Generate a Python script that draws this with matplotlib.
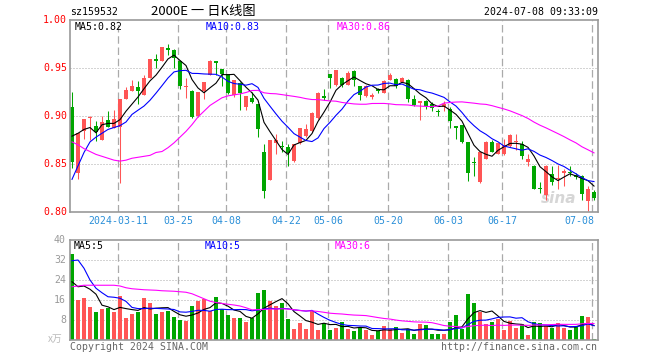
import matplotlib
matplotlib.use('Agg')
import matplotlib.pyplot as plt
import numpy as np

W, H = 660, 360

# ---------------- data ----------------
opens = [0.909, 0.841, 0.884, 0.8975, 0.890, 0.875, 0.896, 0.888, 0.889, 0.918,
         0.926, 0.930, 0.9215, 0.940, 0.959, 0.957, 0.971, 0.969, 0.957, 0.930,
         0.926, 0.8997, 0.926, 0.943, 0.957, 0.949, 0.944, 0.9215, 0.934, 0.909,
         0.919, 0.9125, 0.863, 0.8333, 0.8715, 0.869, 0.8677, 0.853, 0.8715, 0.879,
         0.884, 0.898, 0.921, 0.944, 0.932, 0.9396, 0.9326, 0.9465, 0.931, 0.9208,
         0.9198, 0.9285, 0.9243, 0.938, 0.9389, 0.9354, 0.938, 0.9174, 0.9139, 0.9156,
         0.912, 0.905, 0.9097, 0.9076, 0.889, 0.8903, 0.8729, 0.852, 0.8313, 0.8556,
         0.8733, 0.8604, 0.8608, 0.8688, 0.873, 0.8708, 0.8517, 0.8483, 0.8247, 0.818,
         0.840, 0.834, 0.8403, 0.842, 0.839, 0.8375, 0.8115, 0.8208]
highs = [0.925, 0.882, 0.897, 0.8995, 0.895, 0.900, 0.905, 0.906, 0.918, 0.930,
         0.938, 0.936, 0.943, 0.959, 0.965, 0.972, 0.975, 0.970, 0.958, 0.940,
         0.927, 0.925, 0.935, 0.958, 0.957, 0.949, 0.944, 0.938, 0.935, 0.921,
         0.925, 0.913, 0.871, 0.875, 0.8816, 0.874, 0.871, 0.871, 0.888, 0.892,
         0.904, 0.925, 0.9285, 0.944, 0.948, 0.941, 0.947, 0.948, 0.931, 0.932,
         0.924, 0.929, 0.937, 0.945, 0.940, 0.941, 0.939, 0.9215, 0.916, 0.917,
         0.915, 0.907, 0.9156, 0.909, 0.889, 0.891, 0.873, 0.857, 0.863, 0.874,
         0.875, 0.872, 0.8764, 0.881, 0.8813, 0.8736, 0.8604, 0.849, 0.8313, 0.849,
         0.8483, 0.8486, 0.845, 0.8476, 0.841, 0.839, 0.827, 0.823]
lows = [0.846, 0.834, 0.876, 0.875, 0.874, 0.875, 0.889, 0.888, 0.830, 0.918,
        0.926, 0.912, 0.9215, 0.940, 0.950, 0.957, 0.964, 0.950, 0.928, 0.919,
        0.898, 0.899, 0.918, 0.943, 0.943, 0.931, 0.923, 0.920, 0.906, 0.906,
        0.914, 0.8785, 0.8146, 0.833, 0.860, 0.863, 0.848, 0.852, 0.871, 0.878,
        0.883, 0.897, 0.917, 0.929, 0.931, 0.930, 0.932, 0.931, 0.917, 0.920,
        0.918, 0.9236, 0.924, 0.938, 0.9295, 0.935, 0.9146, 0.910, 0.896, 0.907,
        0.905, 0.900, 0.905, 0.8878, 0.8764, 0.872, 0.8326, 0.838, 0.8306, 0.855,
        0.862, 0.860, 0.859, 0.868, 0.865, 0.8556, 0.8479, 0.8236, 0.820, 0.8128,
        0.8285, 0.8243, 0.8271, 0.8372, 0.834, 0.8128, 0.8007, 0.813]
closes = [0.852, 0.882, 0.897, 0.8985, 0.883, 0.894, 0.889, 0.897, 0.918, 0.927,
          0.931, 0.926, 0.940, 0.959, 0.957, 0.972, 0.969, 0.960, 0.931, 0.931,
          0.899, 0.925, 0.935, 0.957, 0.955, 0.944, 0.924, 0.937, 0.924, 0.921,
          0.9146, 0.886, 0.8215, 0.875, 0.8747, 0.868, 0.861, 0.8705, 0.8875, 0.886,
          0.9035, 0.924, 0.919, 0.9396, 0.948, 0.9326, 0.9448, 0.938, 0.9215, 0.931,
          0.9222, 0.9257, 0.936, 0.9427, 0.931, 0.940, 0.918, 0.911, 0.9156, 0.9104,
          0.9085, 0.904, 0.913, 0.8951, 0.888, 0.8729, 0.8406, 0.851, 0.8625, 0.8733,
          0.863, 0.8715, 0.8694, 0.8799, 0.874, 0.8583, 0.8552, 0.8243, 0.824, 0.8483,
          0.8313, 0.8358, 0.8427, 0.841, 0.8368, 0.8184, 0.8243, 0.8146]
volumes = [34.4, 16.0, 16.8, 13.2, 11.2, 12.4, 12.8, 11.2, 17.6, 8.8,
           10.4, 11.2, 16.8, 14.8, 10.4, 11.2, 11.6, 9.2, 8.0, 7.6,
           13.6, 15.6, 16.4, 11.6, 17.2, 12.4, 10.0, 8.8, 8.8, 7.2,
           8.8, 18.8, 20.0, 15.6, 13.6, 14.8, 8.4, 4.4, 6.8, 4.4,
           11.6, 4.0, 6.8, 4.0, 4.8, 7.2, 4.4, 3.6, 5.2, 4.0,
           2.0, 3.6, 5.6, 4.4, 5.2, 2.8, 4.4, 2.4, 6.4, 6.0,
           2.4, 2.4, 2.4, 7.2, 10.0, 4.4, 18.4, 14.8, 11.2, 6.4,
           7.2, 8.4, 4.0, 7.6, 4.8, 6.4, 2.0, 7.2, 6.8, 5.6,
           4.8, 6.8, 4.8, 4.0, 5.6, 9.6, 9.2, 0.4]

# moving averages visible before enough in-window data exists
ma5_head = [0.879, 0.882, 0.886, 0.888]
ma10_head = [0.834, 0.848, 0.862, 0.873, 0.878, 0.882, 0.886, 0.888, 0.890]
ma30_head = [0.873, 0.870, 0.866, 0.863, 0.860, 0.858, 0.856, 0.854, 0.853, 0.854,
             0.856, 0.857, 0.858, 0.859, 0.862, 0.863, 0.867, 0.872, 0.878, 0.884,
             0.891, 0.899, 0.905, 0.911, 0.915, 0.919, 0.921, 0.922, 0.923]
vma5_head = [23.3, 21.3, 21.6, 20.3]
vma10_head = [31.7, 32.0, 28.7, 24.0, 20.7, 18.9, 17.3, 17.1, 16.7]
vma30_head = [21.3, 21.6, 21.9, 21.9, 21.9, 21.9, 21.9, 21.9, 21.6, 20.9,
              20.5, 20.3, 20.1, 20.0, 19.9, 19.7, 19.6, 19.5, 19.3, 19.1,
              18.5, 17.5, 16.5, 15.5, 15.0, 14.6, 14.3, 14.0, 13.6]

date_idx = [8, 18, 26, 36, 43, 53, 63, 72, 87]
date_labels = ['2024-03-11', '03-25', '04-08', '04-22', '05-06', '05-20',
               '06-03', '06-17', '07-08']
price_ticks = [1.00, 0.95, 0.90, 0.85, 0.80]
vol_ticks = [40, 32, 24, 16, 8]

title_code = 'sz159532'
title_name = '2000E 一 日K线图'
title_time = '2024-07-08 09:33:09'
ma_price_labels = ['MA5:0.82', 'MA10:0.83', 'MA30:0.86']
ma_vol_labels = ['MA5:5', 'MA10:5', 'MA30:6']

# ---------------- style ----------------
RED = '#ff5555'
GREEN = '#00a600'
MA_COLORS = ['#000000', '#0000ff', '#ff00ff']
FRAME = '#999999'
GRID = '#aaaaaa'
MONO = 'DejaVu Sans Mono'
FS = 7.1


def moving(vals, n, head):
    out = []
    for i in range(len(vals)):
        if i < len(head):
            out.append(head[i])
        else:
            out.append(float(np.mean(vals[i - n + 1:i + 1])))
    return out


def rect(l, t, r, b):
    return [l / W, 1 - b / H, (r - l) / W, (b - t) / H]


def ftext(x, y, s, **kw):
    fig.text(x / W, 1 - y / H, s, va='center', **kw)


fig = plt.figure(figsize=(W / 100, H / 100), dpi=100)
fig.patch.set_facecolor('white')

ax = fig.add_axes(rect(70, 20, 598, 212))
axv = fig.add_axes(rect(70, 240, 598, 340))

n = len(closes)
x = np.arange(n)
o = np.array(opens); c = np.array(closes)
hi = np.array(highs); lo = np.array(lows)
cols = [RED if c[i] >= o[i] else GREEN for i in range(n)]

for a in (ax, axv):
    a.set_xlim(-0.333, n - 0.333)
    a.set_xticks([]); a.set_yticks([])
    for s in a.spines.values():
        s.set_color(FRAME); s.set_linewidth(1.2)
    for d in date_idx:
        a.axvline(d - 0.28, color=GRID, lw=0.9, ls=(0, (6, 3)), zorder=1)

ax.set_ylim(0.80, 1.00)
for yv in price_ticks[1:-1]:
    ax.axhline(yv, color=GRID, lw=0.72, ls=(0, (1, 2)), zorder=1)

# candles
ax.vlines(x, lo, hi, colors=cols, lw=0.75, zorder=2)
body_h = np.maximum(np.abs(c - o), 0.0011)
body_b = np.minimum(o, c)
ax.bar(x, body_h, bottom=body_b, width=0.78, color=cols, linewidth=0, zorder=2)

for vals, nn, head, col in zip([closes] * 3, [5, 10, 30],
                               [ma5_head, ma10_head, ma30_head], MA_COLORS):
    ax.plot(x, moving(vals, nn, head), color=col, lw=0.8, zorder=3)

ax.text(0.925, 0.07, 'sina', transform=ax.transAxes, fontsize=11,
        fontweight='bold', style='italic', color='#d6d6d6', ha='center',
        va='center', zorder=0)

# volume
axv.set_ylim(0, 40)
for yv in vol_ticks[1:]:
    axv.axhline(yv, color=GRID, lw=0.72, ls=(0, (1, 2)), zorder=1)
axv.bar(x, volumes, width=0.78, color=cols, linewidth=0, zorder=2)
for nn, head, col in zip([5, 10, 30], [vma5_head, vma10_head, vma30_head], MA_COLORS):
    axv.plot(x, moving(volumes, nn, head), color=col, lw=0.8, zorder=3)

# texts
ftext(70, 12, title_code, fontsize=FS, family=MONO, color='black')
ftext(151, 12, title_name, fontsize=9.5, family=['Noto Sans CJK SC', 'DejaVu Sans'],
      color='black')
ftext(598, 12, title_time, fontsize=FS, family=MONO, color='black', ha='right')

for yv in price_ticks:
    ypx = 20 + (1.00 - yv) / 0.20 * 192
    ftext(67, ypx, f'{yv:.2f}', fontsize=FS, family=MONO, color='#ff0000', ha='right')

for xs, lab, col in zip([75, 206, 337], ma_price_labels, MA_COLORS):
    ftext(xs, 26.5, lab, fontsize=FS, family=MONO, color=col)
for xs, lab, col in zip([74, 205, 335], ma_vol_labels, MA_COLORS):
    ftext(xs, 246, lab, fontsize=FS, family=MONO, color=col)

for d, lab in zip(date_idx, date_labels):
    xpx = 72 + 6 * d - 1.7
    ha = 'center'
    if d == date_idx[-1]:
        xpx = 594; ha = 'right'
    ftext(xpx, 221, lab, fontsize=FS, family=MONO, color='#2a8fd8', ha=ha)

for yv in vol_ticks:
    ypx = 340 - yv / 40 * 100
    ftext(66, ypx, str(yv), fontsize=FS, family=MONO, color='#999999', ha='right')
ftext(63, 339, 'x万', fontsize=FS, family=['Noto Sans CJK SC', 'DejaVu Sans'],
      color='#bbbbbb', ha='right')

ftext(70, 346.5, 'Copyright 2024 SINA.COM', fontsize=FS, family=MONO, color='#666666')
ftext(597, 346.5, 'http://finance.sina.com.cn', fontsize=FS, family=MONO,
      color='#666666', ha='right')

fig.savefig('out.png', dpi=100, facecolor='white')
